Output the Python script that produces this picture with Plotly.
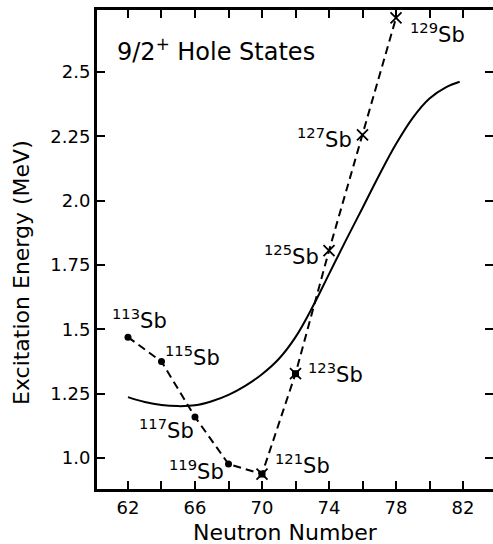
import plotly.graph_objects as go

# ---- data ----
neutrons = [62, 64, 66, 68, 70, 72, 74, 76, 78]
energies = [1.47, 1.375, 1.16, 0.977, 0.938, 1.328, 1.806, 2.256, 2.71]
masses = [113, 115, 117, 119, 121, 123, 125, 127, 129]
kinds = ["dot", "dot", "dot", "dot", "both", "both", "x", "x", "x"]

curve_n = [62, 63, 64, 65, 66, 67, 68, 69, 70, 71, 72, 73, 74, 75, 76, 77, 78, 79, 80, 81, 81.8]
curve_e = [1.237, 1.218, 1.206, 1.202, 1.205, 1.221, 1.246, 1.281, 1.326, 1.385, 1.470, 1.585,
           1.715, 1.845, 1.972, 2.100, 2.220, 2.322, 2.397, 2.441, 2.462]

x_tickvals = [62, 64, 66, 68, 70, 72, 74, 76, 78, 80, 82]
x_ticktext = ["62", "", "66", "", "70", "", "74", "", "78", "", "82"]
y_tickvals = [1.0, 1.25, 1.5, 1.75, 2.0, 2.25, 2.5]
y_ticktext = ["1.0", "1.25", "1.5", "1.75", "2.0", "2.25", "2.5"]

# label placement: (xanchor, xshift, yshift) in pixels
label_pos = {
    113: ("left", -18, 18),
    115: ("left", 2, 6),
    117: ("right", 1, -12),
    119: ("right", -3, -6),
    121: ("left", 11, 10),
    123: ("left", 10, 1),
    125: ("right", -8, -4),
    127: ("right", -9, -3),
    129: ("left", 12, -15),
}

FONT = "DejaVu Sans"
fig = go.Figure()

# theoretical curve
fig.add_trace(go.Scatter(x=curve_n, y=curve_e, mode="lines",
                         line=dict(color="black", width=2, shape="spline", smoothing=1.0),
                         showlegend=False, hoverinfo="skip"))
# dashed experimental line
fig.add_trace(go.Scatter(x=neutrons, y=energies, mode="lines",
                         line=dict(color="black", width=2, dash="8px,5px"),
                         showlegend=False, hoverinfo="skip"))

dx = [n for n, k in zip(neutrons, kinds) if k == "dot"]
dy = [e for e, k in zip(energies, kinds) if k == "dot"]
fig.add_trace(go.Scatter(x=dx, y=dy, mode="markers",
                         marker=dict(symbol="circle", size=7, color="black"),
                         showlegend=False))
sx = [n for n, k in zip(neutrons, kinds) if k == "both"]
sy = [e for e, k in zip(energies, kinds) if k == "both"]
fig.add_trace(go.Scatter(x=sx, y=sy, mode="markers",
                         marker=dict(symbol="square", size=7, color="black"),
                         showlegend=False))
xx = [n for n, k in zip(neutrons, kinds) if k in ("x", "both")]
xy = [e for e, k in zip(energies, kinds) if k in ("x", "both")]
fig.add_trace(go.Scatter(x=xx, y=xy, mode="markers",
                         marker=dict(symbol="x-thin", size=11, color="black",
                                     line=dict(color="black", width=1.8)),
                         showlegend=False))

# invisible trace to carry right-side ticks axis
fig.add_trace(go.Scatter(x=[neutrons[0]], y=[energies[0]], yaxis="y2", mode="markers",
                         marker=dict(opacity=0), showlegend=False, hoverinfo="skip"))

for n, e, m in zip(neutrons, energies, masses):
    xa, xs, ys = label_pos[m]
    fig.add_annotation(x=n, y=e, xref="x", yref="y", text=f"<sup>{m}</sup>Sb",
                       showarrow=False, xanchor=xa, yanchor="middle", xshift=xs, yshift=ys,
                       font=dict(family=FONT, size=21, color="black"))

fig.add_annotation(x=(115 - 97) / 396, y=(489 - 50) / 479, xref="paper", yref="paper",
                   text="9/2<sup>+</sup> Hole States", showarrow=False,
                   xanchor="left", yanchor="middle",
                   font=dict(family=FONT, size=24, color="black"))
fig.add_annotation(x=(285 - 97) / 396, y=0, xref="paper", yref="paper",
                   text="Neutron Number", showarrow=False, xanchor="center", yanchor="middle",
                   yshift=-43, font=dict(family=FONT, size=22, color="black"))
fig.add_annotation(x=0, y=(489 - 273) / 479, xref="paper", yref="paper",
                   text="Excitation Energy (MeV)", showarrow=False, textangle=-90,
                   xanchor="center", yanchor="middle", xshift=-76,
                   font=dict(family=FONT, size=22, color="black"))

yr = [0.880, 2.741]
fig.update_layout(
    width=493, height=544,
    margin=dict(l=97, r=0, t=10, b=55),
    paper_bgcolor="white", plot_bgcolor="white",
    font=dict(family=FONT, size=18, color="black"),
    xaxis=dict(range=[60.15, 83.79], tickvals=x_tickvals, ticktext=x_ticktext,
               ticks="inside", ticklen=8, tickwidth=2, tickcolor="black",
               showline=True, linewidth=3, linecolor="black", mirror="ticks",
               showgrid=False, zeroline=False, tickfont=dict(size=18)),
    yaxis=dict(range=yr, tickvals=y_tickvals, ticktext=y_ticktext,
               ticks="inside", ticklen=8, tickwidth=2, tickcolor="black",
               showline=True, linewidth=3, linecolor="black",
               showgrid=False, zeroline=False, tickfont=dict(size=18)),
    yaxis2=dict(range=yr, overlaying="y", side="right", tickvals=y_tickvals,
                ticks="inside", ticklen=8, tickwidth=2, tickcolor="black",
                showticklabels=False, showline=False, showgrid=False, zeroline=False),
)

fig.write_html("out.html")
